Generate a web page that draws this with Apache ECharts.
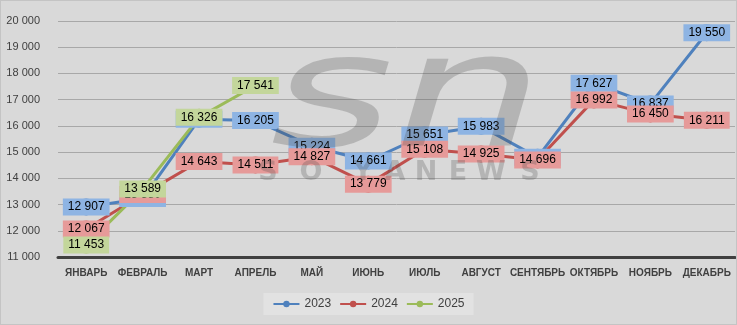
<!DOCTYPE html>
<html>
<head>
<meta charset="utf-8">
<title>Цены по месяцам</title>
<script src="https://cdn.jsdelivr.net/npm/echarts@6/dist/echarts.min.js"></script>
<style>
  html, body { margin: 0; padding: 0; background: #ffffff; }
  #chart { width: 735px; height: 323px; border: 1px solid #c4c4c4; background: #d9d9d9; }
</style>
</head>
<body>
<div id="chart"></div>
<script>
// Months shown along the category axis
const months = ['ЯНВАРЬ', 'ФЕВРАЛЬ', 'МАРТ', 'АПРЕЛЬ', 'МАЙ', 'ИЮНЬ', 'ИЮЛЬ', 'АВГУСТ', 'СЕНТЯБРЬ', 'ОКТЯБРЬ', 'НОЯБРЬ', 'ДЕКАБРЬ'];

// Monthly values per year
const values2023 = [12907, 13230, 16250, 16205, 15224, 14661, 15651, 15983, 14800, 17627, 16837, 19550];
const values2024 = [12067, 13380, 14643, 14511, 14827, 13779, 15108, 14925, 14696, 16992, 16450, 16211];
const values2025 = [11453, 13589, 16326, 17541, null, null, null, null, null, null, null, null];

// Value axis range
const yMin = 11000;
const yMax = 20000;
const yStep = 1000;

const fmt = v => String(v).replace(/\B(?=(\d{3})+(?!\d))/g, ' ');

function makeSeries(name, data, lineColor, labelBg) {
  return {
    name: name,
    type: 'line',
    data: data,
    symbol: 'circle',
    symbolSize: 17,
    lineStyle: { width: 3, color: lineColor },
    itemStyle: { color: lineColor },
    label: {
      show: true,
      position: 'inside',
      formatter: p => fmt(p.value),
      color: '#000',
      fontFamily: 'Liberation Sans',
      fontSize: 12,
      backgroundColor: labelBg,
      padding: [3, 5, 2, 5]
    },
    labelLayout: { hideOverlap: false },
    emphasis: { disabled: true },
    animation: false
  };
}

// Watermark letters beneath the logo
const wmLetters = ['S', 'O', 'Y', 'A', 'N', 'E', 'W', 'S'];
const wmX = [267, 310, 362, 394, 425, 457, 490, 529];
const wmColor = 'rgba(70,70,70,0.25)';

const chart = echarts.init(document.getElementById('chart'), null, { renderer: 'canvas' });
chart.setOption({
  backgroundColor: '#d9d9d9',
  animation: false,
  grid: { left: 57, right: 1, top: 20, bottom: 67 },
  legend: {
    data: ['2023', '2024', '2025'],
    left: 'center',
    top: 292,
    itemWidth: 26,
    itemHeight: 8,
    itemGap: 8,
    padding: [5, 9, 5, 9],
    backgroundColor: '#e2e2e2',
    textStyle: { color: '#404040', fontSize: 12, fontFamily: 'Liberation Sans' }
  },
  xAxis: {
    type: 'category',
    data: months,
    boundaryGap: true,
    axisLine: { lineStyle: { color: '#404040', width: 3 } },
    axisTick: { show: false },
    axisLabel: { color: '#404040', fontSize: 10, fontWeight: 'bold', fontFamily: 'Liberation Sans', margin: 11, interval: 0 }
  },
  yAxis: {
    type: 'value',
    min: yMin,
    max: yMax,
    interval: yStep,
    axisLine: { show: false },
    axisTick: { show: false },
    splitLine: { lineStyle: { color: '#a8a8a8', width: 1 } },
    axisLabel: { color: '#404040', fontSize: 11, fontFamily: 'Liberation Sans', margin: 18, formatter: v => fmt(v) }
  },
  series: [
    makeSeries('2023', values2023, '#4f81bd', '#8eb4e3'),
    makeSeries('2024', values2024, '#c0504d', '#e69a99'),
    makeSeries('2025', values2025, '#9bbb59', '#c3d69b')
  ],
  graphic: [
    {
      type: 'text',
      z: 100,
      silent: true,
      x: 406,
      y: 104,
      scaleX: 1.5,
      style: {
        x: 0, y: 0,
        text: 'sn',
        fill: wmColor,
        fontFamily: 'DejaVu Sans',
        fontStyle: 'italic',
        fontWeight: 'normal',
        fontSize: 158,
        align: 'center',
        verticalAlign: 'middle'
      }
    }
  ].concat(wmLetters.map((ch, i) => ({
    type: 'text',
    z: 100,
    silent: true,
    style: {
      x: wmX[i], y: 172,
      text: ch,
      fill: wmColor,
      fontFamily: 'DejaVu Sans',
      fontWeight: 'bold',
      fontSize: 27,
      align: 'center',
      verticalAlign: 'middle'
    }
  })))
});
</script>
</body>
</html>
